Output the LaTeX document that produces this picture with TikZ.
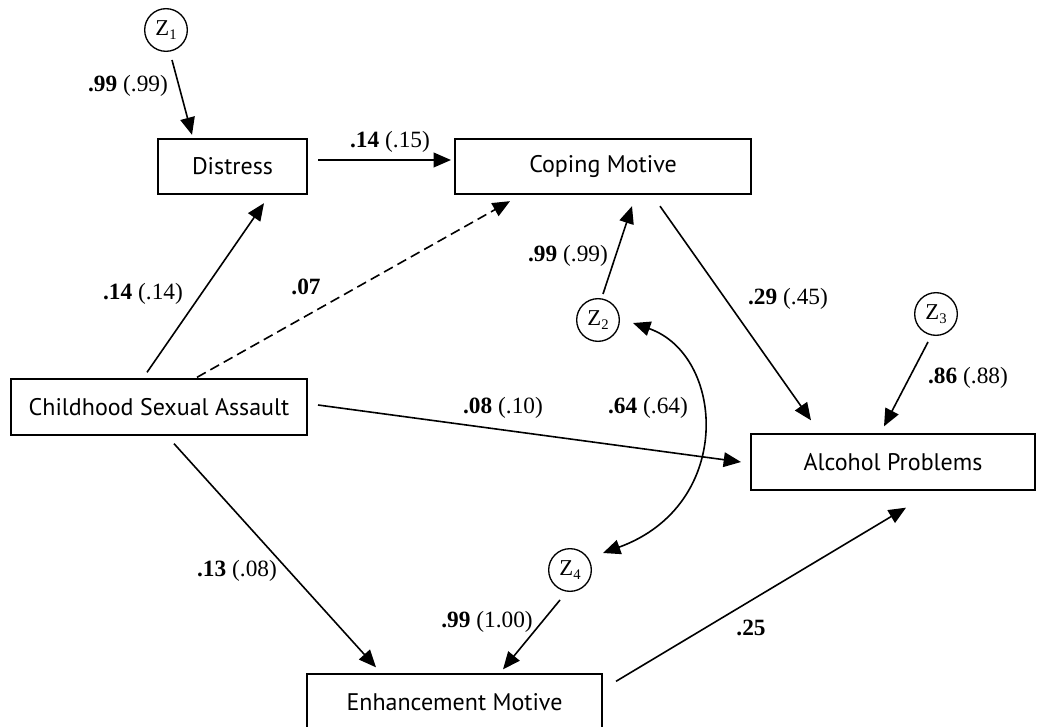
\documentclass[tikz,border=0pt]{standalone}
\usepackage{fontspec}
\setmainfont{Liberation Serif}
\newfontfamily\boxfont{PT Sans}
\usetikzlibrary{arrows.meta}
\newcommand{\coef}[2]{\textbf{#1} (#2)}
\newcommand{\zsym}[1]{Z\raisebox{-0.35ex}{\fontsize{11}{11}\selectfont #1}}

\begin{document}
\begin{tikzpicture}[x=0.75pt,y=-0.75pt,
  var/.style={draw,line width=1.5pt,font=\boxfont\fontsize{18}{20}\selectfont,minimum height=41.5pt,inner sep=0pt},
  err/.style={draw,circle,line width=1pt,minimum size=32pt,inner sep=0pt,font=\fontsize{17}{17}\selectfont},
  effect/.style={line width=1.2pt,-{Triangle[length=13pt,width=11pt]}},
  lab/.style={font=\fontsize{17.5}{17.5}\selectfont,inner sep=0pt}]
  \useasboundingbox (0,0) rectangle (1038,727);
  \clip (0,0) rectangle (1038,727);
  % observed variables
  \node[var,minimum width=111.75pt] (distress) at (232.5,166.5) {Distress};
  \node[var,minimum width=222pt] (coping) at (603,166.5) {Coping Motive};
  \node[var,minimum width=222pt] (csa) at (159,407) {Childhood Sexual Assault};
  \node[var,minimum width=213pt] (alcohol) at (893,462) {Alcohol Problems};
  \node[var,minimum width=221.25pt] (enhance) at (454.5,702) {Enhancement Motive};
  % disturbances
  \node[err] (z1) at (166,30) {\zsym{1}};
  \node[err] (z2) at (598,320) {\zsym{2}};
  \node[err] (z3) at (936,314) {\zsym{3}};
  \node[err] (z4) at (570,570) {\zsym{4}};
  % paths
  \draw[effect] ([shift={(6,30)}]z1.center) -- ([shift={(35,-3)}]distress.north west);
  \draw[effect] ([shift={(10,-6.5)}]distress.east) -- ([shift={(-3,-6.5)}]coping.west);
  \draw[effect] ([shift={(137,-6)}]csa.north west) -- ([shift={(107,8)}]distress.south west);
  \draw[effect,dash pattern=on 7.5pt off 4pt] ([shift={(187,-1)}]csa.north west) -- ([shift={(56,6)}]coping.south west);
  \draw[effect] ([shift={(5,-26)}]z2.center) -- ([shift={(178,11)}]coping.south west);
  \draw[effect] ([shift={(206,11)}]coping.south west) -- ([shift={(61,-13)}]alcohol.north west);
  \draw[effect] ([shift={(-8,28)}]z3.center) -- ([shift={(134,-7)}]alcohol.north west);
  \draw[effect] ([shift={(10,-2)}]csa.east) -- ([shift={(-9,0)}]alcohol.west);
  \draw[effect] ([shift={(164,8)}]csa.south west) -- ([shift={(70,-6)}]enhance.north west);
  \draw[effect] ([shift={(-10,30)}]z4.center) -- ([shift={(197,-4)}]enhance.north west);
  \draw[effect] ([shift={(13,8)}]enhance.north east) -- ([shift={(156,17)}]alcohol.south west);
  \draw[line width=1.2pt,{Triangle[length=13pt,width=11pt]}-{Triangle[length=13pt,width=11pt]}]
    ([shift={(35,3)}]z2.center) .. controls (725,355) and (735,505) .. ([shift={(33,-17)}]z4.center);
  % coefficients
  \node[lab] (c1) at (128,86) {\coef{.99}{.99}};
  \node[lab] (c2) at (390,142) {\coef{.14}{.15}};
  \node[lab] (c3) at (143,294) {\coef{.14}{.14}};
  \node[lab] (c4) at (306,287) {\textbf{.07}};
  \node[lab] (c5) at (568,256) {\coef{.99}{.99}};
  \node[lab] (c6) at (788,299) {\coef{.29}{.45}};
  \node[lab] (c7) at (968,378) {\coef{.86}{.88}};
  \node[lab] (c8) at (503,408) {\coef{.08}{.10}};
  \node[lab] (c9) at (648,408) {\coef{.64}{.64}};
  \node[lab] (c10) at (237,571) {\coef{.13}{.08}};
  \node[lab] (c11) at (487,622) {\coef{.99}{1.00}};
  \node[lab] (c12) at (751,628) {\textbf{.25}};
\end{tikzpicture}
\end{document}
